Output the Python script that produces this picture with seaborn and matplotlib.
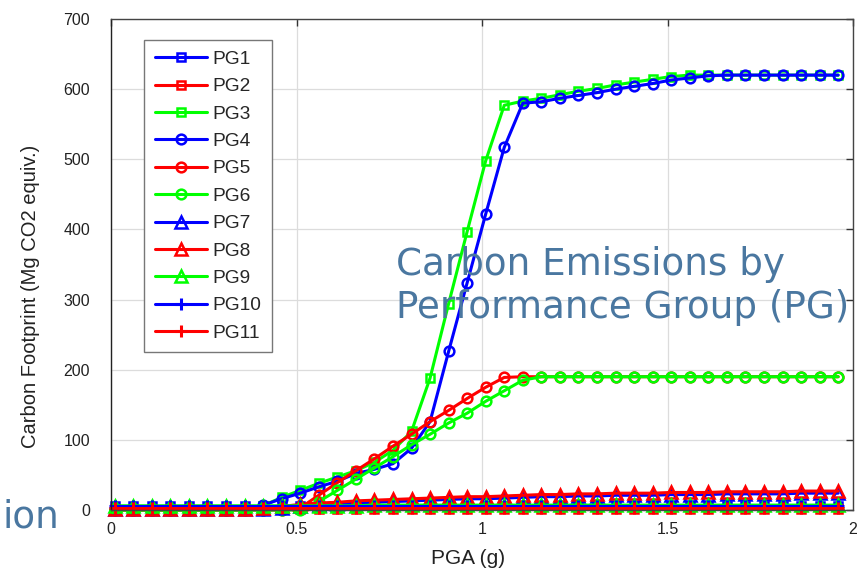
import matplotlib
matplotlib.use("Agg")
import matplotlib.pyplot as plt
import seaborn as sns
import pandas as pd

# ---------------- data ----------------
pga = [0.01, 0.06, 0.11, 0.16, 0.21, 0.26, 0.31, 0.36, 0.41, 0.46,
       0.51, 0.56, 0.61, 0.66, 0.71, 0.76, 0.81, 0.86, 0.91, 0.96,
       1.01, 1.06, 1.11, 1.16, 1.21, 1.26, 1.31, 1.36, 1.41, 1.46,
       1.51, 1.56, 1.61, 1.66, 1.71, 1.76, 1.81, 1.86, 1.91, 1.96]

pg1 = [6, 6, 6, 6, 6, 6, 6, 6, 6, 6,
       6, 6, 6, 6, 6, 6, 6, 6, 6, 6,
       6, 6, 6, 6, 6, 6, 6, 6, 6, 6,
       6, 6, 6, 6, 6, 6, 6, 6, 6, 6]
pg2 = [1, 1, 1, 1, 1, 1, 1, 1, 1, 1,
       1, 1, 1, 1, 1, 1, 1, 1, 1, 1,
       1, 1, 1, 1, 1, 1, 1, 1, 1, 1,
       1, 1, 1, 1, 1, 1, 1, 1, 1, 1]
pg3 = [0, 0, 0, 0, 0, 0, 0, 0, 6, 18,
       28, 38, 47, 56, 68, 85, 112, 188, 294, 397,
       498, 577, 583, 587, 592, 597, 601, 606, 610, 614,
       618, 620, 620, 620, 620, 620, 620, 620, 620, 620]
pg4 = [1, 1, 1, 1, 1, 1, 1, 1, 7, 16,
       24, 33, 41, 52, 58, 66, 88, 126, 226, 324,
       422, 517, 580, 582, 587, 591, 595, 600, 604, 608,
       613, 616, 619, 620, 620, 620, 620, 620, 620, 620]
pg5 = [0, 0, 0, 0, 0, 0, 0, 0, 0, 0,
       3, 21, 39, 56, 73, 91, 108, 126, 142, 159,
       175, 189, 190, 190, 190, 190, 190, 190, 190, 190,
       190, 190, 190, 190, 190, 190, 190, 190, 190, 190]
pg6 = [0, 0, 0, 0, 0, 0, 0, 0, 0, 0,
       0, 12, 28, 44, 60, 76, 93, 108, 124, 138,
       155, 170, 185, 190, 190, 190, 190, 190, 190, 190,
       190, 190, 190, 190, 190, 190, 190, 190, 190, 190]
pg7 = [1, 1, 1, 1, 1, 1, 1, 1, 1, 3,
       5, 7, 8, 10, 11, 12, 13, 14, 15, 16,
       16, 17, 18, 19, 19, 20, 20, 21, 21, 21,
       22, 22, 22, 23, 23, 23, 23, 24, 24, 24]
pg8 = [2, 2, 2, 2, 2, 2, 2, 2, 3, 5,
       8, 10, 11, 13, 14, 15, 16, 17, 18, 19,
       19, 20, 21, 22, 22, 23, 23, 24, 24, 24,
       25, 25, 25, 26, 26, 26, 26, 27, 27, 27]
pg9 = [6, 6, 6, 6, 6, 6, 6, 6, 6, 6,
       6, 6, 6, 6, 7, 7, 7, 7, 7, 7,
       7, 7, 7, 7, 7, 7, 7, 7, 7, 7,
       7, 7, 7, 7, 7, 7, 7, 7, 7, 7]
pg10 = [5, 5, 5, 5, 5, 5, 5, 5, 5, 5,
        5, 5, 5, 5, 5, 5, 5, 5, 5, 5,
        5, 5, 5, 5, 5, 5, 5, 5, 5, 5,
        5, 5, 5, 5, 5, 5, 5, 5, 5, 5]
pg11 = [3, 3, 3, 3, 3, 3, 3, 3, 3, 3,
        3, 3, 3, 3, 3, 3, 3, 3, 3, 3,
        3, 3, 3, 3, 3, 3, 3, 3, 3, 3,
        3, 3, 3, 3, 3, 3, 3, 3, 3, 3]

series_names = ["PG1", "PG2", "PG3", "PG4", "PG5", "PG6",
                "PG7", "PG8", "PG9", "PG10", "PG11"]
series_values = [pg1, pg2, pg3, pg4, pg5, pg6, pg7, pg8, pg9, pg10, pg11]

x_ticks = [0, 0.5, 1, 1.5, 2]
x_tick_labels = ["0", "0.5", "1", "1.5", "2"]
y_ticks = [0, 100, 200, 300, 400, 500, 600, 700]
y_tick_labels = ["0", "100", "200", "300", "400", "500", "600", "700"]

# ---------------- style ----------------
colors = ["#0000ff", "#ff0000", "#00ff00"]
markers = ["s", "s", "s", "o", "o", "o", "^", "^", "^", "+", "+"]

sns.set_style("white")
plt.rcParams["font.family"] = ["Liberation Sans", "DejaVu Sans"]

fig = plt.figure(figsize=(8.64, 5.72), dpi=100)
ax = fig.add_axes([111 / 864, 1 - 510 / 572, (853 - 111) / 864, (510 - 19) / 572])

for i, (name, vals) in enumerate(zip(series_names, series_values)):
    df = pd.DataFrame({"PGA": pga, "val": vals})
    m = markers[i]
    if m == "s":
        kw = dict(markersize=6, markeredgewidth=1.8, markerfacecolor="none")
    elif m == "o":
        kw = dict(markersize=7, markeredgewidth=1.8, markerfacecolor="none")
    elif m == "^":
        kw = dict(markersize=8, markeredgewidth=1.8, markerfacecolor="none")
    else:
        kw = dict(markersize=9, markeredgewidth=2.2)
    sns.lineplot(data=df, x="PGA", y="val", ax=ax, color=colors[i % 3],
                 linewidth=2.2, marker=m, markeredgecolor=colors[i % 3],
                 label=name, clip_on=False, **kw)

ax.set_xlim(0, 2)
ax.set_ylim(0, 700)
ax.set_xticks(x_ticks)
ax.set_xticklabels(x_tick_labels)
ax.set_yticks(y_ticks)
ax.set_yticklabels(y_tick_labels)
ax.grid(True, color="#dcdcdc", linewidth=0.9)
ax.set_axisbelow(True)
ax.tick_params(direction="in", length=5, width=1, colors="#333333",
               labelcolor="#222222", labelsize=11.5,
               top=True, right=True)
ax.tick_params(axis="y", pad=15)
ax.tick_params(axis="x", pad=9)
for s in ax.spines.values():
    s.set_visible(True)
    s.set_color("#444444")
    s.set_linewidth(1.0)
ax.spines["left"].set_color("#222222")

ax.set_xlabel("PGA (g)", fontsize=15, color="#222222")
ax.xaxis.set_label_coords((468 - 111) / 742, (510 - 549) / 491)
ax.set_ylabel("Carbon Footprint (Mg CO2 equiv.)", fontsize=14.5, color="#222222")
ax.yaxis.set_label_coords((40 - 111) / 742, (510 - 296) / 491)

leg = ax.legend(loc="upper left", bbox_to_anchor=(144 / 864, 1 - 40 / 572),
                bbox_transform=fig.transFigure, borderaxespad=0,
                frameon=True, fancybox=False, fontsize=13.8,
                handlelength=2.76, labelspacing=0.52, handletextpad=0.26,
                borderpad=0.55)
leg.get_frame().set_edgecolor("#777777")
leg.get_frame().set_linewidth(1.0)
leg.get_frame().set_alpha(1)

text_color = "#4a77a0"
fig.text(396 / 864, 1 - 275 / 572, "Carbon Emissions by",
         fontsize=26.8, color=text_color, family="DejaVu Sans", va="baseline")
fig.text(396 / 864, 1 - 318 / 572, "Performance Group (PG)",
         fontsize=26.8, color=text_color, family="DejaVu Sans", va="baseline")
fig.text(2 / 864, 1 - 527 / 572, "ion",
         fontsize=26.8, color=text_color, family="DejaVu Sans", va="baseline")

fig.savefig("out.png", dpi=100)
